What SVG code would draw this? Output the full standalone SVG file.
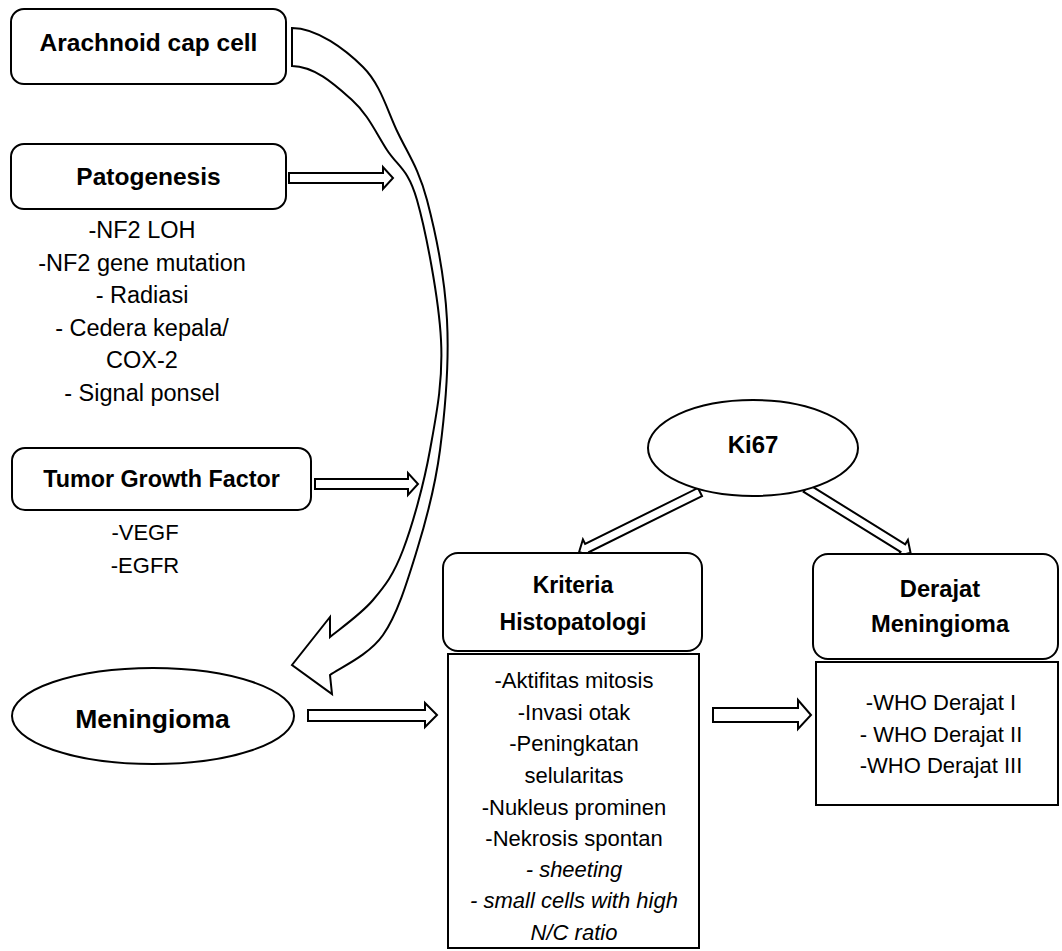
<svg xmlns="http://www.w3.org/2000/svg" width="1062" height="951" viewBox="0 0 1062 951">
<style>
.box{fill:#fff;stroke:#000;stroke-width:2}
.arr{fill:#fff;stroke:#000;stroke-width:2;stroke-linejoin:miter}
.t{font-family:"Liberation Sans",Arial,sans-serif;fill:#000;text-anchor:middle}
.b{font-weight:bold}
.i{font-style:italic}
</style>
<rect width="1062" height="951" fill="#fff"/>
<g id="connectors">
<path class="arr" d="M292,28 C317,28 345.3,49.5 363,67 C380.7,84.5 387.3,110.8 398,133 C408.7,155.2 418.8,168.8 427,200 C435.2,231.2 444.8,278.3 447,320 C449.2,361.7 445,411.7 440,450 C435,488.3 426.5,519.2 417,550 C407.5,580.8 397.5,614.2 383,635 C368.5,655.8 338.8,668.3 330,675 L332,694 L292,665 L330,617 L330,637 C337.2,630.8 360.8,614.5 373,600 C385.2,585.5 393.5,575 403,550 C412.5,525 423.7,485 430,450 C436.3,415 443.2,381.7 441,340 C438.8,298.3 426,231.7 417,200 C408,168.3 397.8,166.7 387,150 C376.2,133.3 367.8,114 352,100 C336.2,86 315,66 292,66 Z"/>
<polygon class="arr" points="289,173 383,173 383,167 393,178 383,189 383,183 289,183"/>
<polygon class="arr" points="315,479 408,479 408,473 418,484 408,495 408,489 315,489"/>
<polygon class="arr" points="308,710 425,710 425,703 437,715 425,727 425,721 308,721"/>
<polygon class="arr" points="713,708 798,708 798,700 811,715 798,729 798,722 713,722"/>
<g transform="translate(700,492) rotate(153.6)"><polygon class="arr" points="0,-4.5 126,-4.5 126,-9.5 135,0 126,9.5 126,4.5 0,4.5"/></g>
<g transform="translate(806,488) rotate(31.8)"><polygon class="arr" points="0,-4.5 114,-4.5 114,-9.5 123,0 114,9.5 114,4.5 0,4.5"/></g>
</g>
<g id="arachnoid">
<rect class="box" x="11" y="9" width="275" height="75" rx="13"/>
<text class="t b" x="148.5" y="51" font-size="24.5">Arachnoid cap cell</text>
</g>
<g id="patogenesis">
<rect class="box" x="11" y="144" width="275" height="65" rx="13"/>
<text class="t b" x="148.5" y="185" font-size="24.5">Patogenesis</text>
</g>
<g id="patogenesis-list" font-size="23.5">
<text class="t" x="142" y="238">-NF2 LOH</text>
<text class="t" x="142" y="270.5">-NF2 gene mutation</text>
<text class="t" x="142" y="303">- Radiasi</text>
<text class="t" x="142" y="335.5">- Cedera kepala/</text>
<text class="t" x="142" y="368">COX-2</text>
<text class="t" x="142" y="400.5">- Signal ponsel</text>
</g>
<g id="tgf">
<rect class="box" x="12" y="448" width="299" height="62" rx="13"/>
<text class="t b" x="161.5" y="487" font-size="23.3">Tumor Growth Factor</text>
</g>
<g id="tgf-list" font-size="22">
<text class="t" x="145" y="540">-VEGF</text>
<text class="t" x="145" y="573">-EGFR</text>
</g>
<g id="meningioma">
<ellipse class="box" cx="153" cy="716" rx="141" ry="48"/>
<text class="t b" x="152.5" y="728" font-size="26.5">Meningioma</text>
</g>
<g id="ki67">
<ellipse class="box" cx="753" cy="448" rx="105" ry="48"/>
<text class="t b" x="753" y="453" font-size="24">Ki67</text>
</g>
<g id="kriteria">
<rect class="box" x="443" y="553" width="259" height="98" rx="15"/>
<text class="t b" x="573" y="593" font-size="23">Kriteria</text>
<text class="t b" x="573" y="630" font-size="23">Histopatologi</text>
</g>
<g id="kriteria-list" font-size="22">
<rect class="box" x="448" y="654" width="251" height="294"/>
<text class="t" x="574" y="688">-Aktifitas mitosis</text>
<text class="t" x="574" y="720">-Invasi otak</text>
<text class="t" x="574" y="751">-Peningkatan</text>
<text class="t" x="574" y="783">selularitas</text>
<text class="t" x="574" y="815">-Nukleus prominen</text>
<text class="t" x="574" y="846">-Nekrosis spontan</text>
<text class="t i" x="574" y="877">- sheeting</text>
<text class="t i" x="574" y="908">- small cells with high</text>
<text class="t i" x="574" y="940">N/C ratio</text>
</g>
<g id="derajat">
<rect class="box" x="813" y="554" width="245" height="105" rx="15"/>
<text class="t b" x="940" y="597" font-size="23.7">Derajat</text>
<text class="t b" x="940" y="632" font-size="23.7">Meningioma</text>
</g>
<g id="derajat-list" font-size="22">
<rect class="box" x="816" y="662" width="242" height="143"/>
<text class="t" x="941" y="710">-WHO Derajat I</text>
<text class="t" x="941" y="742">- WHO Derajat II</text>
<text class="t" x="941" y="773">-WHO Derajat III</text>
</g>
</svg>
